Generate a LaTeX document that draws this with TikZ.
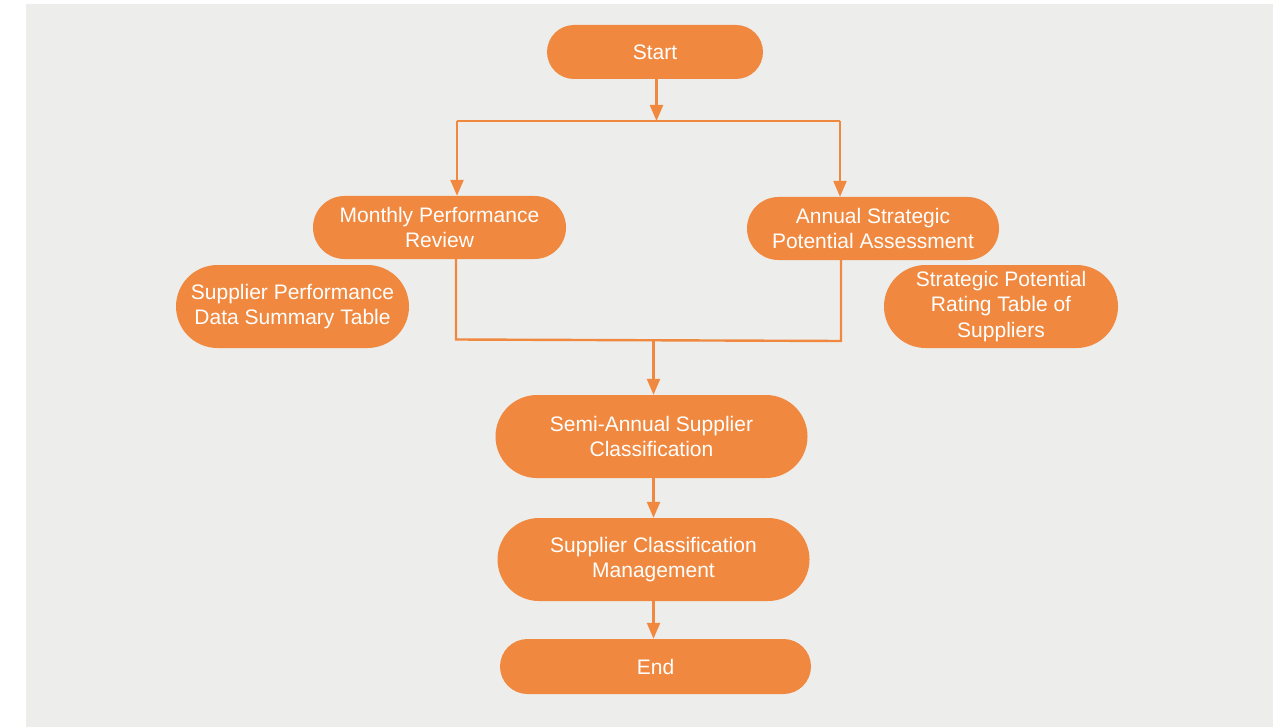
\documentclass[tikz,border=0pt]{standalone}
\usepackage{fontspec}
\setmainfont{Liberation Sans}
\usetikzlibrary{arrows.meta,calc}
\definecolor{flowfill}{RGB}{240,137,63}
\definecolor{canvas}{RGB}{237,237,235}
\tikzset{
  pill/.style={draw=none, fill=flowfill, text=white, inner sep=0pt, align=center,
    font=\fontsize{21pt}{25.5pt}\selectfont},
  link/.style={draw=flowfill, line width=2.4pt},
  arr/.style={link, -{Triangle[length=16pt,width=13pt]}},
}
\begin{document}
\begin{tikzpicture}[x=1pt,y=-1pt]
  \useasboundingbox (0,0) rectangle (1281,727);
  \fill[canvas] (26,4) rectangle (1273,727);

  % process steps
  \node[pill, minimum width=216pt, minimum height=54pt, rounded corners=27pt] (start) at (655,52) {Start};
  \node[pill, minimum width=253pt, minimum height=63pt, rounded corners=31.5pt] (mpr) at (439.5,227.5) {Monthly Performance\\Review};
  \node[pill, minimum width=252pt, minimum height=63pt, rounded corners=31.5pt] (asp) at (873,228.5) {Annual Strategic\\Potential Assessment};
  \node[pill, minimum width=233pt, minimum height=83pt, rounded corners=41.5pt] (spd) at (292.5,306.5) {Supplier Performance\\Data Summary Table};
  \node[pill, minimum width=234pt, minimum height=83pt, rounded corners=41.5pt] (spr) at (1001,306.5) {Strategic Potential\\Rating Table of\\Suppliers};
  \node[pill, minimum width=312pt, minimum height=83pt, rounded corners=41.5pt] (semi) at (651.5,436.5) {Semi-Annual Supplier\\Classification};
  \node[pill, minimum width=312pt, minimum height=83pt, rounded corners=41.5pt] (mgmt) at (653.5,559.5) {Supplier Classification\\Management};
  \node[pill, minimum width=311pt, minimum height=55pt, rounded corners=27.5pt] (endn) at (655.5,666.5) {End};

  % split after start
  \coordinate (split) at (656.5,121);
  \coordinate (sl) at (457,121);
  \coordinate (sr) at (840,121);
  \draw[arr] (start.south -| split) -- (split);
  \draw[link] (sl) -- (sr);
  \draw[arr] (sl) -- (sl |- mpr.north);
  \draw[arr] (sr) -- (sr |- asp.north);

  % merge into classification
  \coordinate (ml) at (456,339.5);
  \coordinate (mr) at (841,341);
  \coordinate (mm) at (653.5,340);
  \draw[link] (ml |- mpr.south) -- (ml) -- (mr) -- (mr |- asp.south);
  \draw[arr] (mm) -- (mm |- semi.north);

  % lower chain
  \draw[arr] (semi.south -| mgmt.north) -- (mgmt.north);
  \draw[arr] (mgmt.south) -- (mgmt.south |- endn.north);
\end{tikzpicture}
\end{document}
